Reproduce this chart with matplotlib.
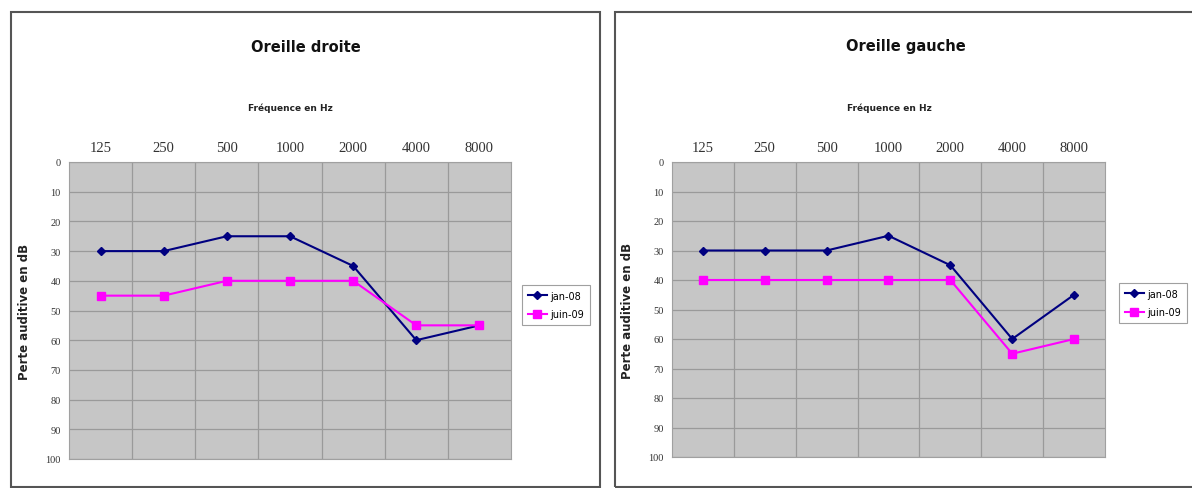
import matplotlib.pyplot as plt
from matplotlib.patches import Rectangle

# ---------------------------------------------------
# Audiogram data (perte auditive en dB)
# ---------------------------------------------------
freqs = ["125", "250", "500", "1000", "2000", "4000", "8000"]
series_labels = ["jan-08", "juin-09"]

droite_jan08 = [30, 30, 25, 25, 35, 60, 55]
droite_juin09 = [45, 45, 40, 40, 40, 55, 55]

gauche_jan08 = [30, 30, 30, 25, 35, 60, 45]
gauche_juin09 = [40, 40, 40, 40, 40, 65, 60]

y_ticks = list(range(0, 101, 10))

W, H = 1192, 489
fig = plt.figure(figsize=(W / 100, H / 100), dpi=100)
fig.patch.set_facecolor("white")


def px_box(x0, y0, x1, y1):
    # pixel box -> figure fraction [left, bottom, width, height]
    return [x0 / W, 1 - y1 / H, (x1 - x0) / W, (y1 - y0) / H]


def draw_panel(plot_box, frame_box, title, jan, juin, legend_xy, title_x, sub_x):
    # outer chart frame
    fx0, fy0, fx1, fy1 = frame_box
    fig.patches.append(Rectangle((fx0 / W, 1 - fy1 / H), (fx1 - fx0) / W, (fy1 - fy0) / H,
                                 transform=fig.transFigure, fill=False,
                                 edgecolor="#555555", linewidth=1.5))

    ax = fig.add_axes(px_box(*plot_box))
    ax.set_facecolor("#c6c6c6")
    x = list(range(len(freqs)))
    ax.plot(x, jan, color="#000080", marker="D", markersize=4.5, linewidth=1.5,
            label=series_labels[0])
    ax.plot(x, juin, color="#ff00ff", marker="s", markersize=5.5, linewidth=1.5,
            label=series_labels[1])

    ax.set_xlim(-0.5, len(freqs) - 0.5)
    ax.set_ylim(100, 0)
    ax.xaxis.tick_top()
    ax.set_xticks(x)
    ax.set_xticklabels(freqs, family="Liberation Serif", fontsize=10.5, color="#333333")
    ax.set_xticks([i + 0.5 for i in x[:-1]], minor=True)
    ax.set_yticks(y_ticks)
    ax.set_yticklabels([str(v) for v in y_ticks], family="Liberation Serif",
                       fontsize=7.5, color="#333333")
    ax.tick_params(axis="both", which="both", length=0, pad=6)
    ax.grid(True, axis="y", which="major", color="#9a9a9a", linewidth=0.9)
    ax.grid(True, axis="x", which="minor", color="#9a9a9a", linewidth=0.9)
    for s in ax.spines.values():
        s.set_color("#a0a0a0")
        s.set_linewidth(0.8)

    ax.set_ylabel("Perte auditive en dB", fontsize=8.5, fontweight="bold",
                  color="#222222", labelpad=10)

    fig.text(title_x / W, 1 - 47 / H, title, ha="center", va="center",
             fontsize=10.5, fontweight="bold", color="#111111")
    fig.text(sub_x / W, 1 - 108 / H, "Fréquence en Hz", ha="center", va="center",
             fontsize=6.5, fontweight="bold", color="#222222")

    leg = ax.legend(loc="upper left", bbox_to_anchor=(legend_xy[0] / W, 1 - legend_xy[1] / H),
                    bbox_transform=fig.transFigure, fontsize=7, frameon=True,
                    fancybox=False, handlelength=2.0, borderpad=0.6, labelspacing=0.9,
                    handletextpad=0.3)
    leg.get_frame().set_edgecolor("#888888")
    leg.get_frame().set_linewidth(0.8)
    return ax


draw_panel((69, 163, 511, 460), (11, 13, 600, 488), "Oreille droite",
           droite_jan08, droite_juin09, (517, 281), 306, 290)
draw_panel((672, 163, 1105, 458), (615, 13, 1200, 488), "Oreille gauche",
           gauche_jan08, gauche_juin09, (1114, 279), 906, 889)

fig.savefig("out.png", dpi=100)
